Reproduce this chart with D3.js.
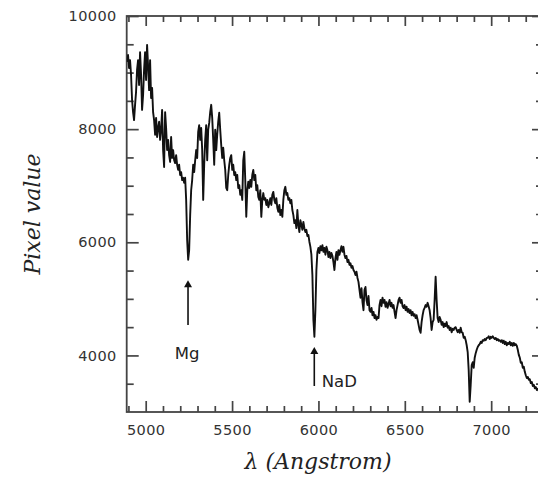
<!DOCTYPE html>
<html>
<head>
<meta charset="utf-8">
<script src="https://cdn.jsdelivr.net/npm/d3@7/dist/d3.min.js"></script>
<style>
  html, body { margin: 0; padding: 0; background: #fff; }
  svg { display: block; }
</style>
</head>
<body>
<svg id="chart" width="538" height="480"></svg>
<script>
// ---- data ----
// spectrum sampled on a uniform wavelength grid (Angstrom)
const lambdaStart = 4892;
const lambdaStep = 5.8;
const flux = [
9190,9310,9080,9220,8960,8520,8300,8160,8430,8660,
9050,9220,8780,9360,8960,8340,8600,9050,9360,8870,
9490,9120,8690,9220,8550,8730,8300,8160,7900,8200,
7860,8020,8130,7810,7990,8340,7630,7330,8300,8020,
7630,7810,7540,7420,7860,7490,7630,7450,7400,7540,
7370,7280,7370,7190,7240,7100,7140,7050,7140,6750,
6040,5690,5860,6480,6920,7100,7370,7240,7450,7630,
7490,7950,8070,7810,8020,7630,6750,7370,7810,8070,
7450,7990,8110,8300,8430,8200,7810,7370,7990,7630,
7900,8130,8290,7990,7720,7490,7670,7450,7280,6960,
6920,7190,7370,7490,7540,7280,7370,7190,7240,7100,
7190,6960,7010,6840,6920,6750,7450,7600,7100,6450,
6920,7070,6960,7100,6980,7190,7280,7100,7190,6920,
7010,6800,6750,6920,6450,6750,6870,6750,6780,6660,
6750,6620,6690,6780,6660,6840,6890,6750,6690,6780,
6610,6540,6660,6480,6570,6450,6750,6920,6980,6840,
6870,6750,6780,6690,6750,6570,6480,6340,6390,6250,
6570,6310,6180,6390,6310,6220,6360,6250,6180,6220,
6110,6130,6010,5920,5780,5420,4630,4330,4800,5510,
5830,5900,5810,5930,5860,5950,5830,5900,5780,5920,
5860,5740,5830,5720,5810,5760,5650,5510,5720,5830,
5690,5860,5780,5860,5930,5830,5920,5780,5720,5760,
5650,5690,5600,5630,5550,5580,5510,5480,5420,5480,
5370,5300,5160,5020,5190,4940,4800,5160,5210,4980,
4890,5050,4800,4770,4840,4710,4770,4660,4710,4630,
4680,4660,4890,4980,4870,5020,4930,4980,4860,4940,
4840,4910,4980,4870,4930,4840,4890,4770,4660,4800,
4890,4980,5020,4930,4980,4870,4840,4890,4800,4860,
4770,4820,4750,4800,4710,4770,4700,4730,4660,4710,
4630,4540,4450,4400,4590,4710,4800,4840,4890,4860,
4930,4870,4800,4660,4450,4590,4630,4980,5390,4980,
4660,4590,4680,4630,4540,4590,4500,4560,4520,4590,
4490,4520,4450,4490,4410,4470,4450,4490,4500,4450,
4410,4450,4400,4490,4410,4400,4310,4330,4270,4180,
4060,3740,3180,3480,3830,3880,3780,3960,4040,4100,
4150,4180,4200,4240,4220,4270,4260,4290,4270,4310,
4310,4340,4290,4330,4310,4340,4310,4290,4310,4270,
4290,4260,4270,4240,4270,4220,4260,4200,4240,4180,
4220,4200,4240,4180,4220,4170,4220,4180,4200,4170,
4100,4010,3960,3870,3880,3780,3800,3710,3650,3600,
3620,3570,3580,3510,3530,3460,3480,3420,3440,3390,
3410,3370
];
const xDomain = [4890, 7300];
const yDomain = [3000, 10000];
const xMajorTicks = [5000, 5500, 6000, 6500, 7000];
const yMajorTicks = [4000, 6000, 8000, 10000];
const xMinorStep = 100;
const yMinorStep = 500;
const annotations = [
  { label: "Mg",  lambda: 5245, tip: 5330, tail: 4540, place: "below" },
  { label: "NaD", lambda: 5976, tip: 4150, tail: 3460, place: "right" }
];
const xTitle = "\u03bb (Angstrom)";
const yTitle = "Pixel value";

// ---- drawing ----
const svg = d3.select("#chart");
const L = 126.7, R = 543, T = 16, B = 412;
const x = d3.scaleLinear().domain(xDomain).range([L, R]);
const y = d3.scaleLinear().domain(yDomain).range([B, T]);

const axisColor = "#444";
const xMinor = d3.range(4900, xDomain[1] + 1, xMinorStep).filter(v => !xMajorTicks.includes(v));
const yMinor = d3.range(yDomain[0] + yMinorStep, yDomain[1], yMinorStep).filter(v => !yMajorTicks.includes(v));

function styleAxis(g) {
  g.select(".domain").remove();
  g.selectAll(".tick line").attr("stroke", axisColor).attr("stroke-width", 1.7);
  g.selectAll(".tick text")
    .attr("fill", "#333")
    .style("font-family", "'DejaVu Sans', sans-serif")
    .style("font-size", "14.5px")
    .style("letter-spacing", "0.4px");
}

// bottom
svg.append("g").attr("transform", `translate(0,${B})`)
  .call(d3.axisBottom(x).tickValues(xMinor).tickSize(-6).tickFormat(""))
  .call(styleAxis);
svg.append("g").attr("transform", `translate(0,${B})`)
  .call(d3.axisBottom(x).tickValues(xMajorTicks).tickSize(-11).tickPadding(13).tickFormat(d3.format("d")))
  .call(styleAxis);
// top
svg.append("g").attr("transform", `translate(0,${T})`)
  .call(d3.axisTop(x).tickValues(xMinor).tickSize(-6).tickFormat(""))
  .call(styleAxis);
svg.append("g").attr("transform", `translate(0,${T})`)
  .call(d3.axisTop(x).tickValues(xMajorTicks).tickSize(-10).tickFormat(""))
  .call(styleAxis);
// left
svg.append("g").attr("transform", `translate(${L},0)`)
  .call(d3.axisLeft(y).tickValues(yMinor).tickSize(-7).tickFormat(""))
  .call(styleAxis);
svg.append("g").attr("transform", `translate(${L},0)`)
  .call(d3.axisLeft(y).tickValues(yMajorTicks).tickSize(-12).tickPadding(10).tickFormat(d3.format("d")))
  .call(styleAxis);
// right
svg.append("g").attr("transform", `translate(${R},0)`)
  .call(d3.axisRight(y).tickValues(yMinor).tickSize(-7).tickFormat(""))
  .call(styleAxis);
svg.append("g").attr("transform", `translate(${R},0)`)
  .call(d3.axisRight(y).tickValues(yMajorTicks).tickSize(-11).tickFormat(""))
  .call(styleAxis);

// frame
svg.append("rect").attr("x", L).attr("y", T).attr("width", R - L).attr("height", B - T)
  .attr("fill", "none").attr("stroke", axisColor).attr("stroke-width", 1.8);

// spectrum
svg.append("clipPath").attr("id", "clip").append("rect")
  .attr("x", L).attr("y", T).attr("width", R - L).attr("height", B - T);
const pts = flux.map((v, i) => [lambdaStart + i * lambdaStep, v]);
svg.append("path")
  .datum(pts)
  .attr("clip-path", "url(#clip)")
  .attr("fill", "none")
  .attr("stroke", "#111")
  .attr("stroke-width", 1.9)
  .attr("stroke-linejoin", "round")
  .attr("d", d3.line().x(d => x(d[0])).y(d => y(d[1])));

// annotations
annotations.forEach(a => {
  const ax = x(a.lambda), ty = y(a.tip), by = y(a.tail);
  svg.append("line").attr("x1", ax).attr("x2", ax).attr("y1", ty + 4).attr("y2", by)
    .attr("stroke", "#111").attr("stroke-width", 1.6);
  svg.append("path")
    .attr("d", `M${ax},${ty} L${ax - 4},${ty + 7} L${ax + 4},${ty + 7} Z`)
    .attr("fill", "#111");
  const t = svg.append("text")
    .text(a.label)
    .attr("fill", "#222")
    .style("font-family", "'DejaVu Sans', sans-serif")
    .style("font-size", "16.5px");
  if (a.place === "below") {
    t.attr("x", ax - 1).attr("y", by + 34).attr("text-anchor", "middle");
  } else {
    t.attr("x", ax + 7.5).attr("y", by + 1).attr("text-anchor", "start");
  }
});

// axis titles
svg.append("text")
  .text(xTitle)
  .attr("x", 318).attr("y", 469)
  .attr("text-anchor", "middle")
  .attr("fill", "#222")
  .style("font-family", "'DejaVu Serif', serif")
  .style("font-style", "italic")
  .style("font-size", "22px");
svg.append("text")
  .text(yTitle)
  .attr("transform", "translate(40,214) rotate(-90)")
  .attr("text-anchor", "middle")
  .attr("fill", "#222")
  .style("font-family", "'DejaVu Serif', serif")
  .style("font-style", "italic")
  .style("font-size", "22px");
</script>
</body>
</html>
